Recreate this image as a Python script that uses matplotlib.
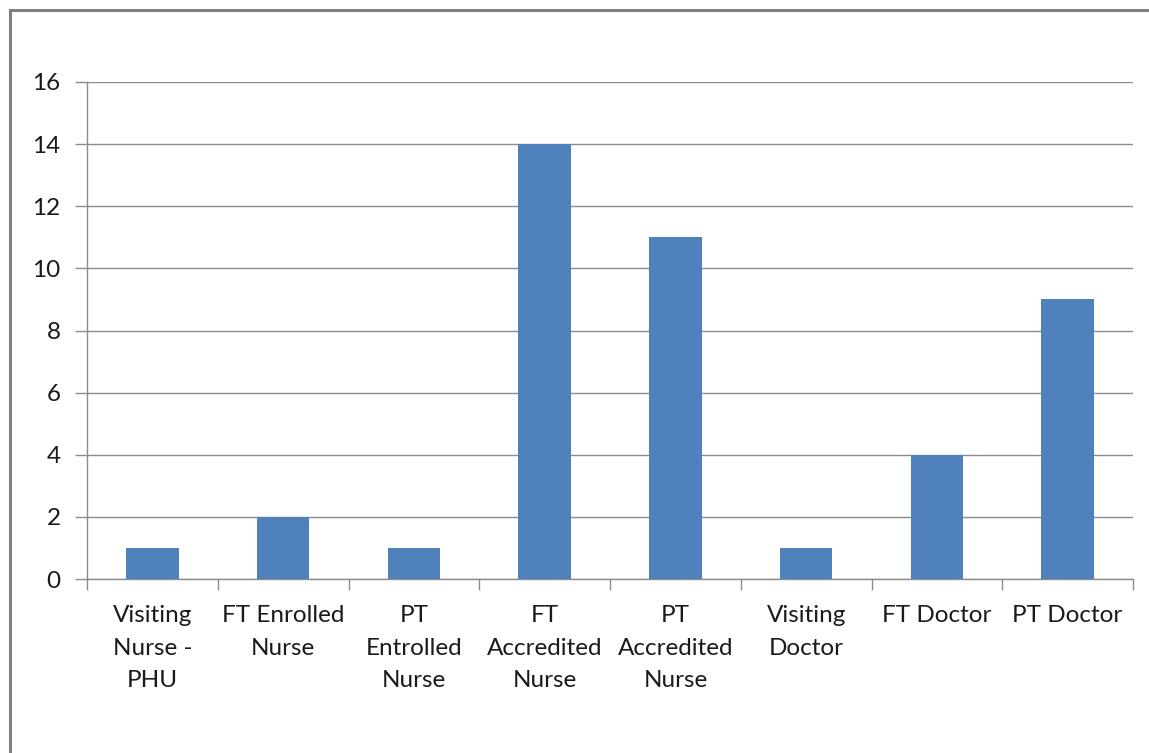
import matplotlib
matplotlib.use("Agg")
import matplotlib.pyplot as plt
from matplotlib.lines import Line2D

categories = ["Visiting\nNurse -\nPHU", "FT Enrolled\nNurse", "PT\nEntrolled\nNurse",
              "FT\nAccredited\nNurse", "PT\nAccredited\nNurse", "Visiting\nDoctor",
              "FT Doctor", "PT Doctor"]
values = [1, 2, 1, 14, 11, 1, 4, 9]
yticks = [0, 2, 4, 6, 8, 10, 12, 14, 16]

plt.rcParams['font.family'] = ['Lato', 'DejaVu Sans']
W, H = 1149, 753
fig = plt.figure(figsize=(W / 100, H / 100), dpi=100)
ax = fig.add_axes([87 / W, 1 - 579 / H, (1133 - 87) / W, (579 - 82) / H])

grid_c = "#8c8c8c"
x = range(len(categories))
ax.bar(x, values, width=0.4, color="#4F81BD", zorder=3)
ax.set_xlim(-0.5, len(categories) - 0.5)
ax.set_ylim(0, 16)
ax.set_yticks(yticks)
ax.set_yticklabels([str(v) for v in yticks], fontsize=17.5, color="#1a1a1a")
ax.yaxis.grid(True, color=grid_c, linewidth=1.0, zorder=0)
ax.tick_params(axis='y', length=9, width=1.0, color=grid_c, pad=10)
ax.set_xticks([i + 0.5 for i in range(-1, len(categories))], minor=False)
ax.set_xticklabels([])
ax.tick_params(axis='x', which='major', length=8, width=1.0, color=grid_c)
ax.set_xticks(list(x), minor=True)
ax.set_xticklabels(categories, minor=True, fontsize=17.5, color="#1a1a1a", linespacing=1.66)
ax.tick_params(axis='x', which='minor', length=0, pad=19)
for s in ["top", "right"]:
    ax.spines[s].set_visible(False)
for s in ["left", "bottom"]:
    ax.spines[s].set_color(grid_c)
    ax.spines[s].set_linewidth(1.0)

# outer chart border (left and top edges visible)
bc = "#808080"
fig.add_artist(Line2D([9.5 / W, 9.5 / W], [0, 1 - 9.5 / H], transform=fig.transFigure, color=bc, linewidth=2.2))
fig.add_artist(Line2D([9.5 / W, 1], [1 - 9.5 / H, 1 - 9.5 / H], transform=fig.transFigure, color=bc, linewidth=2.2))

fig.savefig("out.png", dpi=100)
